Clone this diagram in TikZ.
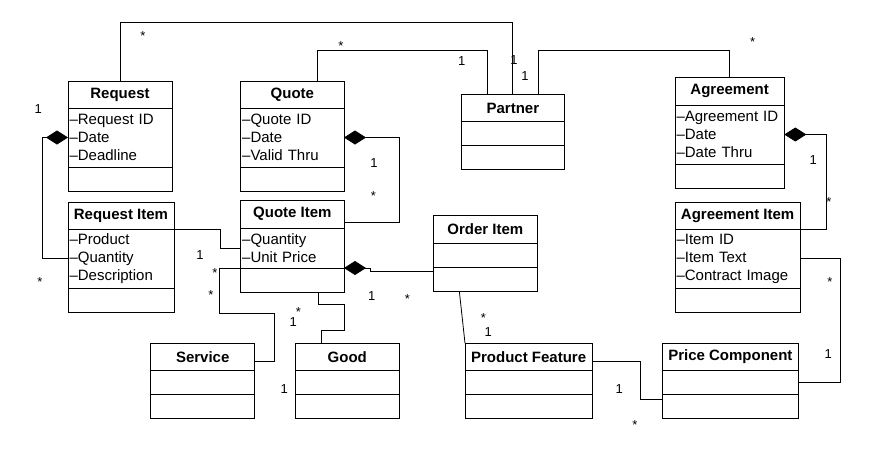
\documentclass[tikz,border=0pt]{standalone}
\usepackage{fontspec}
\setmainfont{Liberation Sans}
\usetikzlibrary{arrows.meta, positioning}

\begin{document}
\begin{tikzpicture}[
  x=1pt, y=-1pt, line width=1pt,
  ttl/.style={draw, font=\fontsize{15}{18}\selectfont\bfseries, minimum height=27pt, inner sep=0pt, outer sep=0pt},
  attr/.style={draw, font=\fontsize{15}{18}\selectfont, align=left, inner xsep=1.5pt, inner ysep=0pt, outer sep=0pt},
  cell/.style={draw, minimum height=24pt, inner sep=0pt, outer sep=0pt},
  assoc/.style={line width=0.8pt},
  comp/.style={assoc, {Diamond[length=22pt, width=14pt]}-},
  mult/.style={font=\fontsize{13}{15}\selectfont, inner sep=0pt, anchor=base},
  mone/.style={mult, yshift=-4.7pt},
  mstar/.style={mult, yshift=-7.4pt}
]
\useasboundingbox (0,0) rectangle (890,451);

% Request
\node[ttl, minimum width=104pt, anchor=north west] (req) at (68,81) {Request};
\node[attr, text width=101pt, minimum height=59pt, below=0pt of req] (req-a) {\textendash Request ID\\\textendash Date\\\textendash Deadline};
\node[cell, minimum width=104pt, below=0pt of req-a] (req-o) {};

% Quote
\node[ttl, minimum width=103.3pt, anchor=north west] (quote) at (240.7,81) {Quote};
\node[attr, text width=100.3pt, minimum height=59pt, below=0pt of quote] (quote-a) {\textendash Quote ID\\\textendash Date\\\textendash Valid Thru};
\node[cell, minimum width=103.3pt, below=0pt of quote-a] (quote-o) {};

% Request Item
\node[ttl, minimum width=106pt, anchor=north west] (reqi) at (68,202) {Request Item};
\node[attr, text width=103pt, minimum height=59pt, below=0pt of reqi] (reqi-a) {\textendash Product\\\textendash Quantity\\\textendash Description};
\node[cell, minimum width=106pt, below=0pt of reqi-a] (reqi-o) {};

% Quote Item
\node[ttl, minimum width=103.3pt, minimum height=28pt, anchor=north west] (qi) at (240.7,200) {Quote Item};
\node[attr, text width=100.3pt, minimum height=40pt, below=0pt of qi] (qi-a) {\textendash Quantity\\\textendash Unit Price};
\node[cell, minimum width=103.3pt, below=0pt of qi-a] (qi-o) {};

% Service, Good
\node[ttl, minimum width=104pt, anchor=north west] (srv) at (150.7,343.3) {Service};
\node[cell, minimum width=104pt, below=0pt of srv] (srv-m) {};
\node[cell, minimum width=104pt, below=0pt of srv-m] (srv-o) {};

\node[ttl, minimum width=104pt, anchor=north west] (good) at (295.3,343.3) {Good};
\node[cell, minimum width=104pt, below=0pt of good] (good-m) {};
\node[cell, minimum width=104pt, below=0pt of good-m] (good-o) {};

% Partner
\node[ttl, minimum width=103.7pt, anchor=north west] (partner) at (461,94.7) {Partner};
\node[cell, minimum width=103.7pt, below=0pt of partner] (partner-m) {};
\node[cell, minimum width=103.7pt, below=0pt of partner-m] (partner-o) {};

% Order Item
\node[ttl, minimum width=104pt, minimum height=28pt, anchor=north west] (ordi) at (433.3,215) {Order Item};
\node[cell, minimum width=104pt, below=0pt of ordi] (ordi-m) {};
\node[cell, minimum width=104pt, below=0pt of ordi-m] (ordi-o) {};

% Agreement
\node[ttl, minimum width=109.3pt, minimum height=28pt, anchor=north west] (agr) at (675,77) {Agreement};
\node[attr, text width=106.3pt, minimum height=59pt, below=0pt of agr] (agr-a) {\textendash Agreement ID\\\textendash Date\\\textendash Date Thru};
\node[cell, minimum width=109.3pt, below=0pt of agr-a] (agr-o) {};

% Agreement Item
\node[ttl, minimum width=125.3pt, anchor=north west] (agri) at (675,202) {Agreement Item};
\node[attr, text width=122.3pt, minimum height=59pt, below=0pt of agri] (agri-a) {\textendash Item ID\\\textendash Item Text\\\textendash Contract Image};
\node[cell, minimum width=125.3pt, below=0pt of agri-a] (agri-o) {};

% Product Feature, Price Component
\node[ttl, minimum width=127.3pt, anchor=north west] (pf) at (465,343.3) {Product Feature};
\node[cell, minimum width=127.3pt, below=0pt of pf] (pf-m) {};
\node[cell, minimum width=127.3pt, below=0pt of pf-m] (pf-o) {};

\node[ttl, minimum width=136.7pt, anchor=north west] (pc) at (662,343.3) {Price Component};
\node[cell, minimum width=136.7pt, below=0pt of pc] (pc-m) {};
\node[cell, minimum width=136.7pt, below=0pt of pc-m] (pc-o) {};

% associations
\draw[assoc] (req.north) -- ++(0,-59) -| (partner.north);
\draw[assoc] ([xshift=77pt]quote.north west) -- ++(0,-31) -| ([xshift=26pt]partner.north west);
\draw[assoc] ([xshift=26pt]partner.north) -- ++(0,-44) -| (agr.north);
\draw[comp] (req-a.west) -- ++(-26,0) |- (reqi-a.west);
\draw[comp] (quote-a.east) -- ++(55,0) |- ([yshift=-8pt]qi.east);
\draw[assoc] (reqi-a.north east) -- ++(46,0) |- (qi-a.west);
\draw[assoc] (qi-o.north west) -- ++(-21,0) -- ++(0,45) -- ++(55,0) |- ([yshift=-5pt]srv.east);
\draw[assoc] ([xshift=26pt]qi-o.south) -- ++(0,12) -| ++(26,26) -| ([xshift=-26pt]good.north);
\draw[comp] (qi-o.north east) -- ++(26,0) |- ([yshift=-4pt]ordi-o.north west);
\draw[assoc] ([xshift=26pt]ordi-o.south west) -- (pf.north west);
\draw[assoc] ([yshift=-5pt]pf.east) -- ++(48,0) |- ([yshift=7pt]pc-o.west);
\draw[comp] (agr-a.east) -- ++(42,0) |- (agri-a.north east);
\draw[assoc] (agri-a.east) -- ++(40,0) |- (pc-m.east);

% multiplicities
\node[mstar] (m1) at (143,33) {*};
\node[mone] (m2) at (514,60) {1};
\node[mstar] (m3) at (341,43) {*};
\node[mone] (m4) at (461.7,61) {1};
\node[mone] (m5) at (525,75.7) {1};
\node[mstar] (m6) at (752.7,39.3) {*};
\node[mone] (m7) at (38.3,108.3) {1};
\node[mstar] (m8) at (40,279.3) {*};
\node[mone] (m9) at (374,162.7) {1};
\node[mstar] (m10) at (373.3,192.7) {*};
\node[mone] (m11) at (200,255) {1};
\node[mstar] (m12) at (215,270) {*};
\node[mstar] (m13) at (211,292.3) {*};
\node[mstar] (m14) at (298.3,309) {*};
\node[mone] (m15) at (293.3,321.7) {1};
\node[mone] (m16) at (284.3,388.3) {1};
\node[mone] (m17) at (371.7,296) {1};
\node[mstar] (m18) at (407.3,296) {*};
\node[mstar] (m19) at (483.3,315) {*};
\node[mone] (m20) at (488.3,331.7) {1};
\node[mone] (m21) at (619.3,388.3) {1};
\node[mstar] (m22) at (635,422.3) {*};
\node[mone] (m23) at (813.3,159.3) {1};
\node[mstar] (m24) at (829,199.3) {*};
\node[mstar] (m25) at (830,279.3) {*};
\node[mone] (m26) at (828.3,353.3) {1};
\end{tikzpicture}
\end{document}
